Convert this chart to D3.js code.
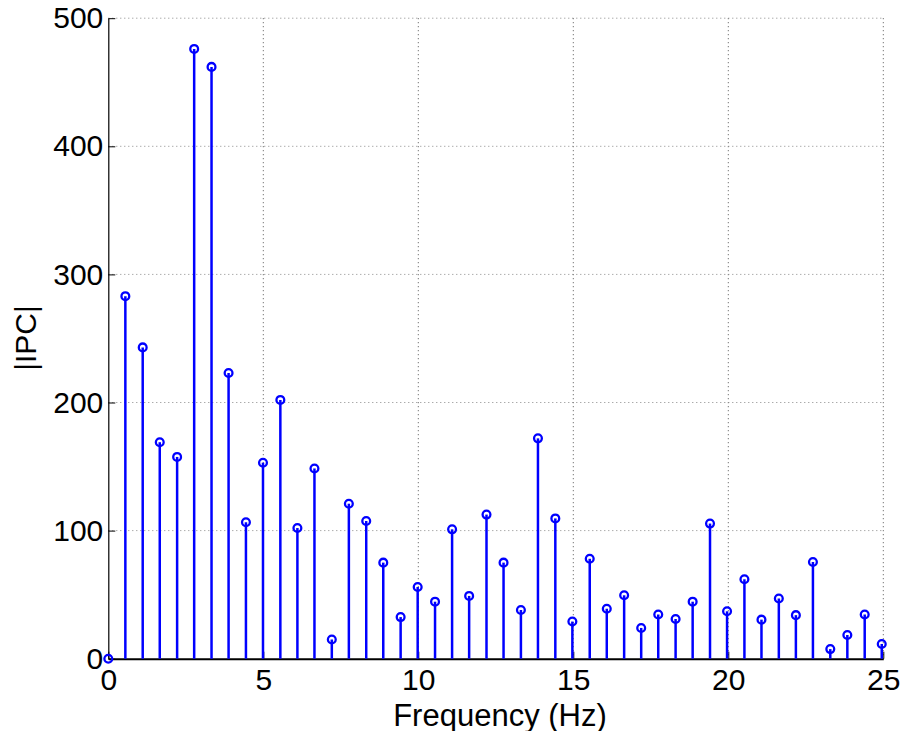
<!DOCTYPE html>
<html>
<head>
<meta charset="utf-8">
<script src="https://cdn.jsdelivr.net/npm/d3@7"></script>
<style>
  html, body { margin: 0; padding: 0; background: #fff; }
  svg { display: block; }
  text { font-family: "Liberation Sans", Arial, Helvetica, sans-serif; }
</style>
</head>
<body>
<svg id="chart" width="902" height="731"></svg>
<script>
// Frequencies (Hz)
const frequencies = [0, 0.55, 1.11, 1.66, 2.22, 2.77, 3.33, 3.88, 4.44, 4.99,
  5.55, 6.10, 6.65, 7.21, 7.76, 8.32, 8.87, 9.43, 9.98, 10.54,
  11.09, 11.64, 12.20, 12.75, 13.31, 13.86, 14.42, 14.97, 15.53, 16.08,
  16.64, 17.19, 17.74, 18.30, 18.85, 19.41, 19.96, 20.52, 21.07, 21.63,
  22.18, 22.73, 23.29, 23.84, 24.40, 24.95];
// |IPC| magnitudes
const magnitudes = [0, 283, 243, 169, 157.5, 476, 462, 223, 106.5, 153,
  202, 102, 148.5, 15, 121, 107.5, 75, 32.5, 56, 44.5,
  101, 49, 112.5, 75, 38, 172, 109.5, 29, 78, 39,
  49.5, 24, 34.5, 31, 44.5, 105.5, 37, 62, 30.5, 47,
  34, 75.5, 7.5, 18.5, 34.5, 11.5];
const xTicks = [0, 5, 10, 15, 20, 25];
const yTicks = [0, 100, 200, 300, 400, 500];
const xLabel = "Frequency (Hz)";
const yLabel = "|IPC|";

const data = frequencies.map((f, i) => ({ f, v: magnitudes[i] }));

const svg = d3.select("#chart");
const pLeft = 108.3, pRight = 883.3, pTop = 18.2, pBottom = 658.7;
const x = d3.scaleLinear().domain([0, 25]).range([pLeft, pRight]);
const y = d3.scaleLinear().domain([0, 500]).range([pBottom, pTop]);
const fontSize = 30;

// grid
const grid = svg.append("g");
grid.selectAll("line.gx").data(xTicks.filter(d => d > 0)).join("line")
  .attr("class", "gx")
  .attr("x1", d => x(d)).attr("x2", d => x(d))
  .attr("y1", pTop).attr("y2", pBottom)
  .attr("stroke", "#555").attr("stroke-width", 1).attr("stroke-dasharray", "1,3");
grid.selectAll("line.gy").data(yTicks.filter(d => d > 0)).join("line")
  .attr("class", "gy")
  .attr("x1", pLeft).attr("x2", pRight)
  .attr("y1", d => y(d)).attr("y2", d => y(d))
  .attr("stroke", "#888").attr("stroke-width", 1).attr("stroke-dasharray", "1,3");

// axes
const xAxis = d3.axisBottom(x).tickValues(xTicks).tickFormat(d3.format("d"))
  .tickSizeInner(-7).tickSizeOuter(0).tickPadding(10.5);
const yAxis = d3.axisLeft(y).tickValues(yTicks).tickFormat(d3.format("d"))
  .tickSizeInner(-7).tickSizeOuter(0).tickPadding(5);

const gx = svg.append("g").attr("transform", `translate(0,${pBottom})`).call(xAxis);
const gy = svg.append("g").attr("transform", `translate(${pLeft},0)`).call(yAxis);
[gx, gy].forEach(g => {
  g.selectAll("text").attr("font-size", fontSize).attr("fill", "#000")
    .style("font-family", "'Liberation Sans', Arial, sans-serif");
  g.selectAll(".tick line").attr("stroke", "#000").attr("stroke-width", 1);
});
gx.select(".domain").attr("stroke", "#000").attr("stroke-width", 2);
gy.select(".domain").attr("stroke", "#000").attr("stroke-width", 1.2);

// stems
const stems = svg.append("g");
stems.selectAll("line").data(data).join("line")
  .attr("x1", d => x(d.f)).attr("x2", d => x(d.f))
  .attr("y1", y(0)).attr("y2", d => y(d.v))
  .attr("stroke", "#0000ff").attr("stroke-width", 2.5);
stems.selectAll("circle").data(data).join("circle")
  .attr("cx", d => x(d.f)).attr("cy", d => y(d.v)).attr("r", 3.9)
  .attr("fill", "none").attr("stroke", "#0000ff").attr("stroke-width", 2.3);

// labels
svg.append("text").attr("x", 500).attr("y", 725.5)
  .attr("text-anchor", "middle").attr("font-size", 31).text(xLabel);
svg.append("text").attr("transform", "translate(36,338) rotate(-90)")
  .attr("text-anchor", "middle").attr("font-size", fontSize).text(yLabel);
</script>
</body>
</html>
